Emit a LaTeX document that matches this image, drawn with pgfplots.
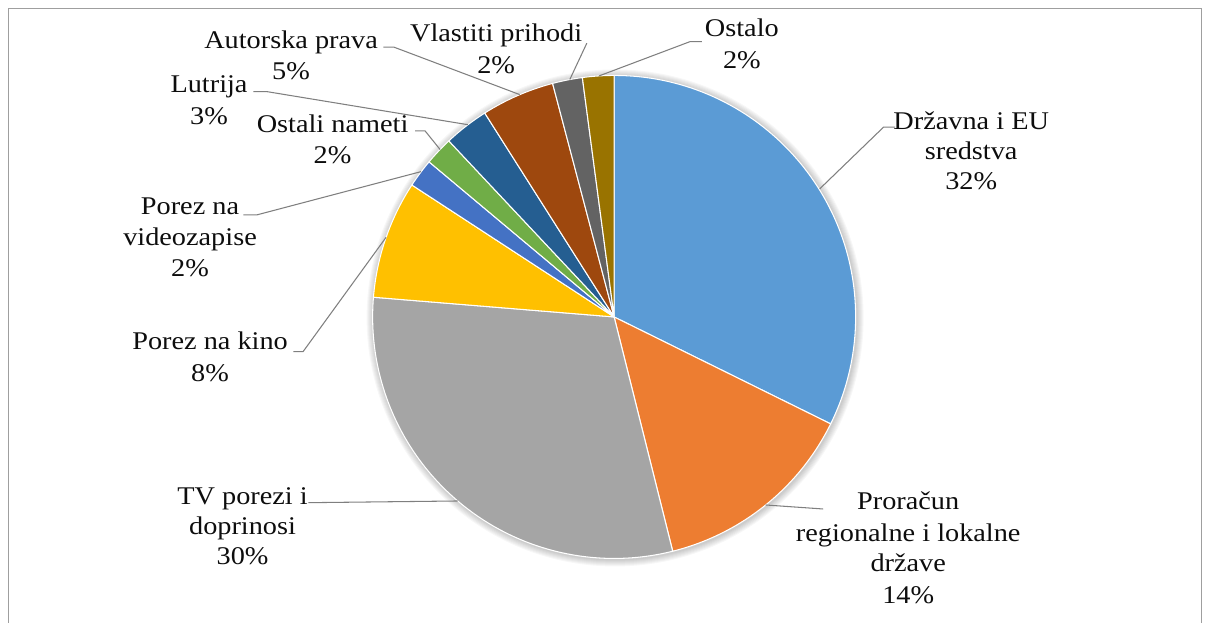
\documentclass[border=0pt]{standalone}
\usepackage{pgfplots}
\pgfplotsset{compat=1.18}
\usepackage{pgfplotstable}
\usepackage{fontspec}
\setmainfont{Liberation Serif}[FakeStretch=1.11]

\definecolor{cDrz}{HTML}{5B9BD5}
\definecolor{cPro}{HTML}{ED7D31}
\definecolor{cTV}{HTML}{A5A5A5}
\definecolor{cKin}{HTML}{FFC000}
\definecolor{cVid}{HTML}{4472C4}
\definecolor{cNam}{HTML}{70AD47}
\definecolor{cLut}{HTML}{255E91}
\definecolor{cAut}{HTML}{9E480E}
\definecolor{cVla}{HTML}{636363}
\definecolor{cOst}{HTML}{997300}
\definecolor{leader}{HTML}{7F7F7F}

% share of each source, clockwise from 12 o'clock
\pgfplotstableread[col sep=comma]{
source,value,color
Drzavna i EU sredstva,32.3,cDrz
Proracun regionalne i lokalne drzave,13.8,cPro
TV porezi i doprinosi,30.2,cTV
Porez na kino,7.9,cKin
Porez na videozapise,1.9,cVid
Ostali nameti,1.9,cNam
Lutrija,3.0,cLut
Autorska prava,4.9,cAut
Vlastiti prihodi,2.0,cVla
Ostalo,2.1,cOst
}\piedata

\newcommand\lblfont{\fontsize{14.5pt}{17pt}\selectfont}
\newcommand\lbl[3]{\node[anchor=base,inner sep=0pt,font=\lblfont,text=black!95] at (axis cs:#1,#2) {#3};}
\def\R{4.83cm}

\begin{document}
\begin{tikzpicture}
\begin{axis}[
    scale only axis,
    x=0.02cm, y=0.02cm,
    y dir=reverse,
    xmin=0, xmax=1208, ymin=0, ymax=622,
    enlargelimits=false,
    hide axis,
    clip=false,
]
% chart frame
\draw[gray!75, line width=0.6pt] (axis cs:8.5,640) -- (axis cs:8.5,8.5) -- (axis cs:1201,8.5) -- (axis cs:1201,640);

% soft shadow
\pgfplotsforeachungrouped \k in {1,...,7}{%
  \pgfmathsetmacro\rr{4.83+0.02*\k}
  \edef\temp{\noexpand\fill[black, opacity=0.03] (axis cs:615,318) circle[radius=\rr cm];}
  \temp
}

% wedges
\def\cum{0}
\pgfplotsforeachungrouped \i in {0,...,9}{%
  \pgfplotstablegetelem{\i}{value}\of\piedata \let\v\pgfplotsretval
  \pgfplotstablegetelem{\i}{color}\of\piedata \let\c\pgfplotsretval
  \pgfmathsetmacro\sa{90-3.6*\cum}
  \pgfmathsetmacro\ea{90-3.6*(\cum+\v)}
  \pgfmathsetmacro\cum{\cum+\v}
  \edef\temp{\noexpand\fill[fill=\c, draw=white, line width=0.6pt, line join=round]
    (axis cs:614,317) -- ++(\sa:\R) arc[start angle=\sa, end angle=\ea, radius=\R] -- cycle;}
  \temp
}

% leader lines
\draw[leader, line width=0.6pt] (axis cs:895,127.3) -- (axis cs:883.3,127.3) -- (axis cs:819.5,189);
\draw[leader, line width=0.6pt] (axis cs:765.5,505) -- (axis cs:823,509);
\draw[leader, line width=0.6pt] (axis cs:308.3,502.7) -- (axis cs:457.5,501);
\draw[leader, line width=0.6pt] (axis cs:293.3,351.7) -- (axis cs:303,351.7) -- (axis cs:386,237.4);
\draw[leader, line width=0.6pt] (axis cs:243.3,215) -- (axis cs:256.7,215) -- (axis cs:421,171.7);
\draw[leader, line width=0.6pt] (axis cs:415,131) -- (axis cs:425,131) -- (axis cs:440,149.6);
\draw[leader, line width=0.6pt] (axis cs:253.3,91.7) -- (axis cs:266.7,91.7) -- (axis cs:467.8,124.8);
\draw[leader, line width=0.6pt] (axis cs:383.3,47.3) -- (axis cs:394,47.3) -- (axis cs:519.6,94.7);
\draw[leader, line width=0.6pt] (axis cs:586.7,43.3) -- (axis cs:569.7,79.6);
\draw[leader, line width=0.6pt] (axis cs:701.7,41.7) -- (axis cs:690,41.7) -- (axis cs:599,76);

% data labels
\lbl{971}{130}{Državna i EU}
\lbl{971}{160}{sredstva}
\lbl{971}{190}{32\%}
\lbl{908}{510}{Proračun}
\lbl{908}{541.5}{regionalne i lokalne}
\lbl{908}{572}{države}
\lbl{908}{603}{14\%}
\lbl{242.5}{505}{TV porezi i}
\lbl{242.5}{535}{doprinosi}
\lbl{242.5}{565}{30\%}
\lbl{210}{350}{Porez na kino}
\lbl{210}{381.5}{8\%}
\lbl{190}{215}{Porez na}
\lbl{190}{246}{videozapise}
\lbl{190}{277}{2\%}
\lbl{332.5}{132.5}{Ostali nameti}
\lbl{332.5}{163.5}{2\%}
\lbl{209}{93}{Lutrija}
\lbl{209}{124.5}{3\%}
\lbl{291}{48.3}{Autorska prava}
\lbl{291}{80}{5\%}
\lbl{496}{42}{Vlastiti prihodi}
\lbl{496}{74}{2\%}
\lbl{741.7}{36.7}{Ostalo}
\lbl{741.7}{68.3}{2\%}
\end{axis}
\pgfresetboundingbox
\path (0,0) rectangle (24.16,12.44);
\end{tikzpicture}
\end{document}
